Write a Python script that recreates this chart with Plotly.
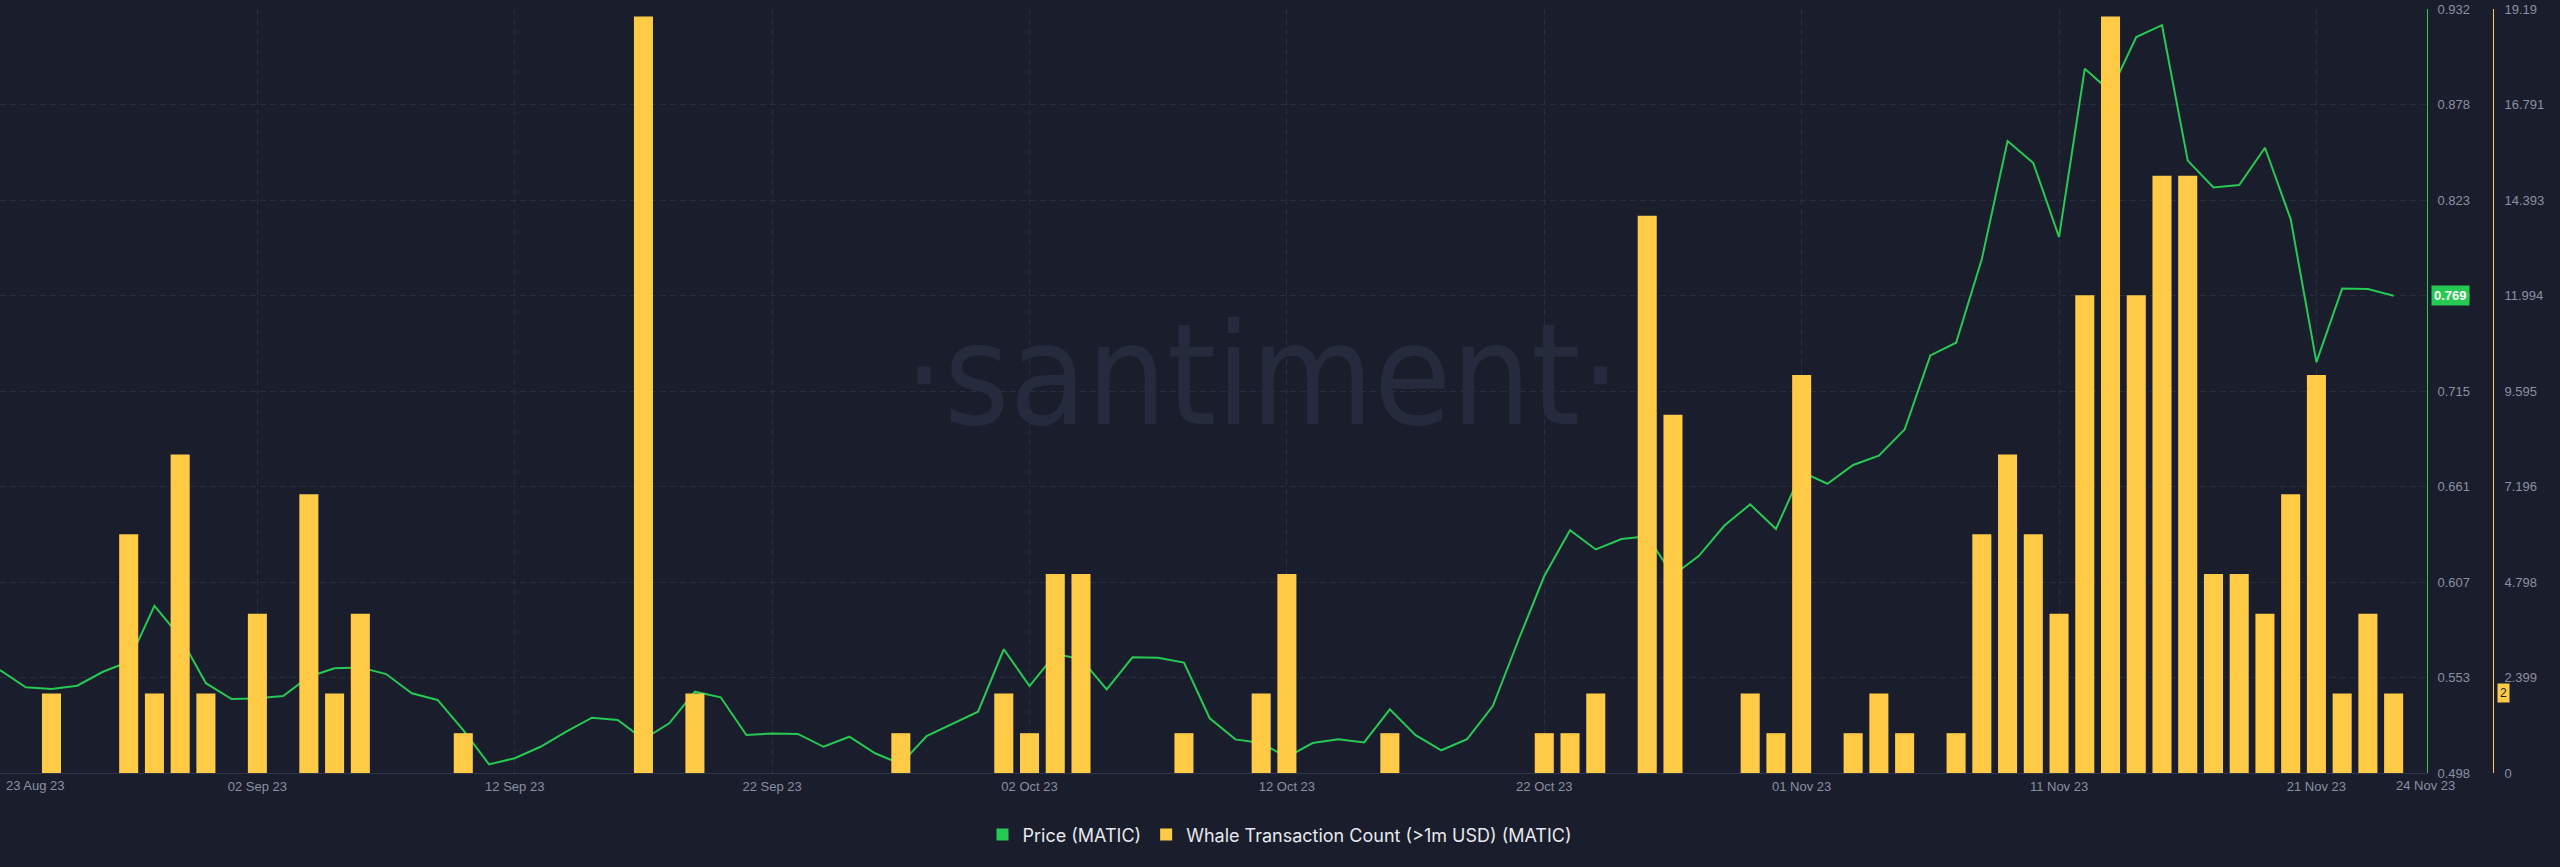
import pandas as pd
import plotly.graph_objects as go

# daily data, 23 Aug 2023 .. 24 Nov 2023
dates = pd.date_range("2023-08-23", "2023-11-24", freq="D")

price = [
    0.5565, 0.5467, 0.5457, 0.5476, 0.5555, 0.5612, 0.5929, 0.5754, 0.5490, 0.5400,
    0.5404, 0.5417, 0.5527, 0.5575, 0.5580, 0.5542, 0.5433, 0.5395, 0.5224, 0.5029,
    0.5064, 0.5129, 0.5215, 0.5294, 0.5281, 0.5171, 0.5262, 0.5442, 0.5410, 0.5196,
    0.5205, 0.5202, 0.5129, 0.5186, 0.5092, 0.5031, 0.5190, 0.5257, 0.5328, 0.5683,
    0.5474, 0.5656, 0.5628, 0.5455, 0.5637, 0.5635, 0.5607, 0.5291, 0.5171, 0.5150,
    0.5070, 0.5150, 0.5172, 0.5154, 0.5342, 0.5195, 0.5109, 0.5172, 0.5360, 0.5737,
    0.6099, 0.6359, 0.6250, 0.6309, 0.6325, 0.6103, 0.6212, 0.6386, 0.6506, 0.6366,
    0.6691, 0.6623, 0.6730, 0.6783, 0.6931, 0.7352, 0.7424, 0.7900, 0.8570, 0.8445,
    0.8024, 0.8981, 0.8851, 0.9161, 0.9228, 0.8459, 0.8306, 0.8320, 0.8532, 0.8126,
    0.7314, 0.7732, 0.7729, 0.7691,
]

whale_tx = [
    0, 0, 2, 0, 0, 6, 2, 8, 2, 0,
    4, 0, 7, 2, 4, 0, 0, 0, 1, 0,
    0, 0, 0, 0, 0, 19, 0, 2, 0, 0,
    0, 0, 0, 0, 0, 1, 0, 0, 0, 2,
    1, 5, 5, 0, 0, 0, 1, 0, 0, 2,
    5, 0, 0, 0, 1, 0, 0, 0, 0, 0,
    1, 1, 2, 0, 14, 9, 0, 0, 2, 1,
    10, 0, 1, 2, 1, 0, 1, 6, 8, 6,
    4, 12, 19, 12, 15, 15, 5, 5, 4, 7,
    10, 2, 4, 2,
]

price_ticks = ["0.498", "0.553", "0.607", "0.661", "0.715", "0.769", "0.823", "0.878", "0.932"]
whale_ticks = ["0", "2.399", "4.798", "7.196", "9.595", "11.994", "14.393", "16.791", "19.19"]
date_ticks = ["2023-09-02", "2023-09-12", "2023-09-22", "2023-10-02", "2023-10-12",
              "2023-10-22", "2023-11-01", "2023-11-11", "2023-11-21"]

BG = "#1a1d2b"
GREEN = "#26c953"
YELLOW = "#ffcb47"
GRID = "#292e3f"
TICK = "#8a90a2"

p_lo, p_hi = float(price_ticks[0]), float(price_ticks[-1])
w_hi = float(whale_ticks[-1])
p_vals = [p_lo + i * (p_hi - p_lo) / 8 for i in range(9)]
w_vals = [i * w_hi / 8 for i in range(9)]

fig = go.Figure()

fig.add_trace(go.Bar(
    x=dates, y=whale_tx, yaxis="y2",
    name="Whale Transaction Count (>1m USD) (MATIC)",
    marker=dict(color=YELLOW, line=dict(width=0)),
))
fig.add_trace(go.Scatter(
    x=dates, y=price, mode="lines", yaxis="y",
    line=dict(color=GREEN, width=2), showlegend=False,
))
# legend entry for price shown as a square, like the source
fig.add_trace(go.Scatter(
    x=[None], y=[None], mode="markers", name="Price (MATIC)",
    marker=dict(symbol="square", size=12, color=GREEN),
))

fig.update_layout(
    width=2560, height=867,
    paper_bgcolor=BG, plot_bgcolor=BG,
    margin=dict(l=0, r=0, t=9, b=94),
    bargap=0.26,
    font=dict(family="Liberation Sans, Arial", color=TICK, size=13),
    legend=dict(
        orientation="h", x=0.5, xanchor="center", y=-0.081, yanchor="middle",
        font=dict(family="Inter, Lato, sans-serif", size=18, color="#e6e8ee"),
        traceorder="reversed", itemsizing="constant",
    ),
    xaxis=dict(
        domain=[0, 0.948],
        range=["2023-08-23", "2023-11-25 07:00"],
        tickvals=date_ticks, tickformat="%d %b %y",
        showgrid=True, gridcolor=GRID, griddash="6px,4px",
        showline=True, linecolor="#30354a", linewidth=1,
        zeroline=False, ticks="", ticklabelstandoff=1,
    ),
    yaxis=dict(
        side="right", range=[p_lo, p_hi],
        tickvals=p_vals, ticktext=price_ticks,
        showgrid=True, gridcolor=GRID, griddash="6px,4px",
        showline=True, linecolor=GREEN, linewidth=1,
        zeroline=False, ticks="", ticklabelstandoff=7,
    ),
    yaxis2=dict(
        overlaying="y", side="right", anchor="free", position=0.9738,
        range=[0, w_hi], tickvals=w_vals, ticktext=whale_ticks,
        showgrid=False, showline=True, linecolor=YELLOW, linewidth=1,
        zeroline=False, ticks="", ticklabelstandoff=8,
    ),
)

# watermark
fig.add_annotation(
    text="·santiment·", xref="paper", yref="paper", x=0.493, y=0.52,
    showarrow=False,
    font=dict(family="Liberation Sans Narrow, DejaVu Sans Condensed, Roboto Condensed, Roboto",
              size=140, color="#252a3d"),
)

# first/last date labels sit at the plot edges
fig.add_annotation(text="23 Aug 23", x=dates[0], xref="x", y=0, yref="paper",
                   xanchor="left", yanchor="top", yshift=-3, xshift=4, showarrow=False,
                   font=dict(size=13, color=TICK))
fig.add_annotation(text="24 Nov 23", x=dates[-1], xref="x", y=0, yref="paper",
                   xanchor="left", yanchor="top", yshift=-3, showarrow=False,
                   font=dict(size=13, color=TICK))

# current value tags
fig.add_annotation(text=f"{price[-1]:.3f}", xref="paper", x=0.9496, yref="y", y=price[-1],
                   xanchor="left", showarrow=False, bgcolor=GREEN, borderpad=2,
                   font=dict(size=13, color="white", weight="bold"))
fig.add_annotation(text=str(whale_tx[-1]), xref="paper", x=0.9754, yref="y2", y=whale_tx[-1],
                   xanchor="left", showarrow=False, bgcolor=YELLOW, borderpad=2,
                   font=dict(size=12, color=BG))

fig.write_html("out.html", config={"displayModeBar": False},
               post_script="document.body.style.margin = '0';")
